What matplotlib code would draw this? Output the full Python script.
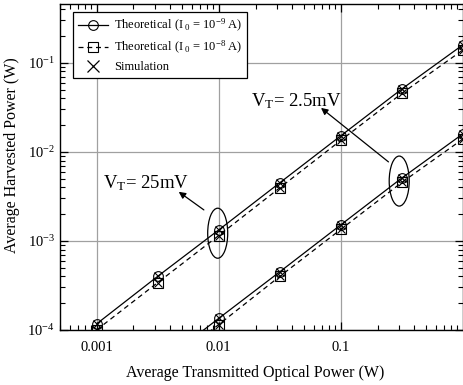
import numpy as np
import matplotlib
matplotlib.use('Agg')
import matplotlib.pyplot as plt
from matplotlib.patches import Ellipse
from matplotlib.ticker import LogLocator, FixedLocator, FixedFormatter, NullFormatter

plt.rcParams['font.family'] = 'Liberation Serif'
plt.rcParams['mathtext.fontset'] = 'custom'
plt.rcParams['mathtext.rm'] = 'Liberation Serif'
plt.rcParams['mathtext.it'] = 'Liberation Serif:italic'

# transmitted optical power (W)
p_tx = [0.001, 0.00316, 0.01, 0.0316, 0.1, 0.316, 1.0]

# V_T = 25 mV
vt25_i9 = [1.17e-4, 4.0e-4, 1.33e-3, 4.5e-3, 1.52e-2, 5.1e-2, 0.16]
vt25_i8 = [1.0e-4, 3.4e-4, 1.15e-3, 3.95e-3, 1.35e-2, 4.55e-2, 0.14]
# V_T = 2.5 mV
vt2_i9 = [1.17e-5, 4.0e-5, 1.35e-4, 4.5e-4, 1.52e-3, 5.1e-3, 0.016]
vt2_i8 = [1.0e-5, 3.4e-5, 1.15e-4, 4.0e-4, 1.35e-3, 4.55e-3, 0.014]

fig = plt.figure(figsize=(4.64, 3.85), dpi=100)
ax = fig.add_axes([0.129, 0.143, 0.869, 0.847])

ms = 7
for y9, y8 in [(vt25_i9, vt25_i8), (vt2_i9, vt2_i8)]:
    ax.plot(p_tx, y9, '-', color='k', lw=0.9, marker='o', mfc='none', ms=ms, mew=0.8)
    ax.plot(p_tx, y8, '--', color='k', lw=0.9, marker='s', mfc='none', ms=ms, mew=0.8,
            dashes=(4, 3))
    ax.plot(p_tx, y9, 'x', color='k', ms=ms - 1, mew=0.8, ls='none')
    ax.plot(p_tx, y8, 'x', color='k', ms=ms - 1, mew=0.8, ls='none')

# legend handles
h1, = ax.plot([], [], '-', color='k', lw=0.9, marker='o', mfc='none', ms=ms, mew=0.8)
h2, = ax.plot([], [], '--', color='k', lw=0.9, marker='s', mfc='none', ms=ms, mew=0.8,
              dashes=(4, 3))
h3, = ax.plot([], [], 'x', color='k', ms=ms + 1, mew=0.9, ls='none')
leg = ax.legend([h1, h2, h3],
                [r'Theoretical (I$_{\ 0}$ = 10$^{-9}$ A)',
                 r'Theoretical (I$_{\ 0}$ = 10$^{-8}$ A)',
                 'Simulation'],
                loc='upper left', bbox_to_anchor=(0.032, 0.975), borderaxespad=0,
                fontsize=9, fancybox=False, edgecolor='k', framealpha=1,
                handlelength=2.4, borderpad=0.4, labelspacing=0.4, handletextpad=0.5)
leg.get_frame().set_linewidth(0.9)

ax.set_xscale('log')
ax.set_yscale('log')
ax.set_xlim(0.0005, 1.0)
ax.set_ylim(1e-4, 0.46)

ax.xaxis.set_major_locator(FixedLocator([0.001, 0.01, 0.1]))
ax.xaxis.set_major_formatter(FixedFormatter(['0.001', '0.01', '0.1']))
ax.xaxis.set_minor_locator(LogLocator(base=10, subs=np.arange(2, 10), numticks=20))
ax.xaxis.set_minor_formatter(NullFormatter())
ax.yaxis.set_major_locator(FixedLocator([1e-4, 1e-3, 1e-2, 1e-1]))
ax.yaxis.set_major_formatter(FixedFormatter([r'10$^{-4}$', r'10$^{-3}$', r'10$^{-2}$', r'10$^{-1}$']))
ax.yaxis.set_minor_locator(LogLocator(base=10, subs=np.arange(2, 10), numticks=20))
ax.yaxis.set_minor_formatter(NullFormatter())

ax.tick_params(which='both', direction='in', top=True, right=True, labelsize=10.5)
ax.tick_params(which='major', length=6, width=0.9)
ax.tick_params(which='minor', length=3.5, width=0.8)
ax.tick_params(axis='x', pad=8)
for s in ax.spines.values():
    s.set_linewidth(1.0)

ax.grid(True, which='major', color='#a0a0a0', lw=0.9)
ax.set_axisbelow(True)

ax.set_xlabel('Average Transmitted Optical Power (W)', fontsize=11.5)
ax.set_ylabel('Average Harvested Power (W)', fontsize=11.5)
ax.xaxis.set_label_coords(0.484, -0.106)
ax.yaxis.set_label_coords(-0.099, 0.537)


def frac(x, y):
    return ax.transLimits.transform(ax.transScale.transform((x, y)))


# ellipses around marker groups
for c in (frac(0.0098, 1.22e-3), frac(0.30, 4.7e-3)):
    ax.add_patch(Ellipse(c, 20 / 403.0, 50 / 326.0, transform=ax.transAxes,
                         fill=False, lw=0.9, color='k'))

arrow = dict(arrowstyle='-|>', color='k', lw=0.9, mutation_scale=10, shrinkA=0, shrinkB=0)
ax.annotate('', xy=(0.0047, 3.56e-3), xytext=(0.00755, 2.23e-3), arrowprops=arrow)
ax.text(0.00112, 3.95e-3, r'V$_\mathrm{T}$= 25mV', fontsize=13.5, ha='left', va='baseline')
ax.annotate('', xy=(0.0687, 3.12e-2), xytext=(0.245, 7.72e-3), arrowprops=arrow)
ax.text(0.0185, 3.21e-2, r'V$_\mathrm{T}$= 2.5mV', fontsize=13.5, ha='left', va='baseline')

fig.savefig('out.png', dpi=100)
